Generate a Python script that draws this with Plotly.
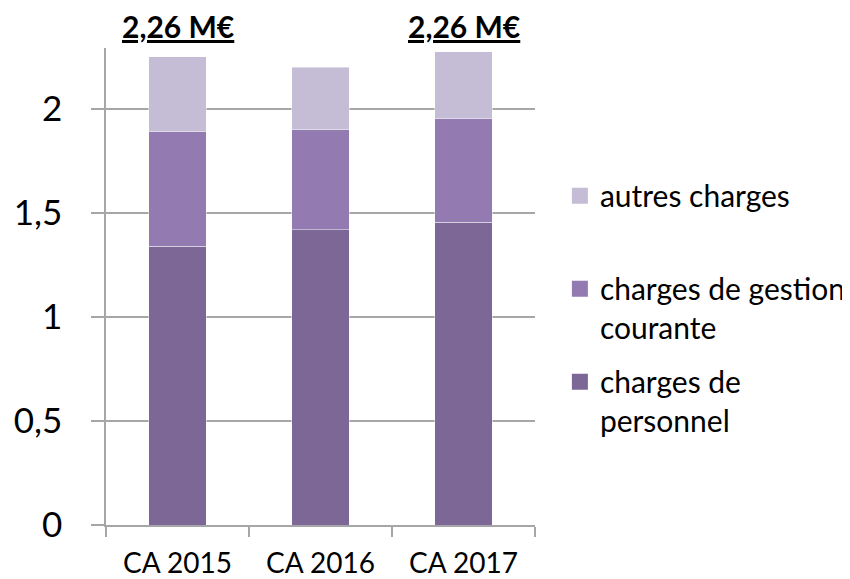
import plotly.graph_objects as go

categories = ["CA 2015", "CA 2016", "CA 2017"]
personnel = [1.34, 1.42, 1.455]
gestion = [0.55, 0.48, 0.50]
autres = [0.36, 0.30, 0.32]
total_labels = ["2,26 M€", "", "2,26 M€"]
series_names = ["charges de<br>personnel", "charges de gestion<br>courante", "autres charges<br> "]
colors = ["#7D6796", "#937AB0", "#C5BCD5"]
y_tickvals = [0, 0.5, 1, 1.5, 2]
y_ticktext = ["0", "0,5", "1", "1,5", "2"]

FONT = "Lato, 'Open Sans', sans-serif"
fig = go.Figure()
for vals, c in zip([personnel, gestion, autres], colors):
    fig.add_trace(go.Bar(x=categories, y=vals, marker=dict(color=c, line=dict(color="rgba(255,255,255,0.45)", width=1)),
                         showlegend=False, hoverinfo="skip"))

# legend entries (top to bottom)
for name, c in zip(series_names[::-1], colors[::-1]):
    fig.add_trace(go.Scatter(x=[None], y=[None], mode="markers", name=name, legendgroup=name,
                             marker=dict(symbol="square", size=18, color=c)))

for cat, lab in zip(categories, total_labels):
    if lab:
        fig.add_annotation(x=cat, y=1.0, xref="x", yref="paper", yanchor="bottom", yshift=2,
                           text="<b><u>" + lab + "</u></b>", showarrow=False,
                           font=dict(family=FONT, size=30, color="black"))

fig.update_layout(
    width=850, height=579,
    margin=dict(l=98, r=323, t=40, b=62, autoexpand=False),
    barmode="stack", bargap=0.6,
    plot_bgcolor="white", paper_bgcolor="white",
    font=dict(family=FONT, color="black"),
    legend=dict(x=1.058, y=0.745, xanchor="left", yanchor="top", traceorder="grouped",
                tracegroupgap=12, valign="top", font=dict(family=FONT, size=30, color="black"),
                bgcolor="rgba(0,0,0,0)"),
    xaxis=dict(showline=True, linecolor="#A6A6A6", linewidth=1.5, ticks="outside", tickson="boundaries",
               ticklen=10, tickcolor="#A6A6A6", tickwidth=1.5, tickfont=dict(family=FONT, size=28),
               ticklabelstandoff=13),
    yaxis=dict(range=[0, 2.293], tickvals=y_tickvals, ticktext=y_ticktext, showline=True, linecolor="#A6A6A6",
               linewidth=1.5, ticks="outside", ticklen=13, tickcolor="#A6A6A6", tickwidth=1.5,
               showgrid=True, gridcolor="#A6A6A6", gridwidth=1.5, zeroline=False,
               tickfont=dict(family=FONT, size=35), ticklabelstandoff=22),
)
fig.write_html("out.html")
